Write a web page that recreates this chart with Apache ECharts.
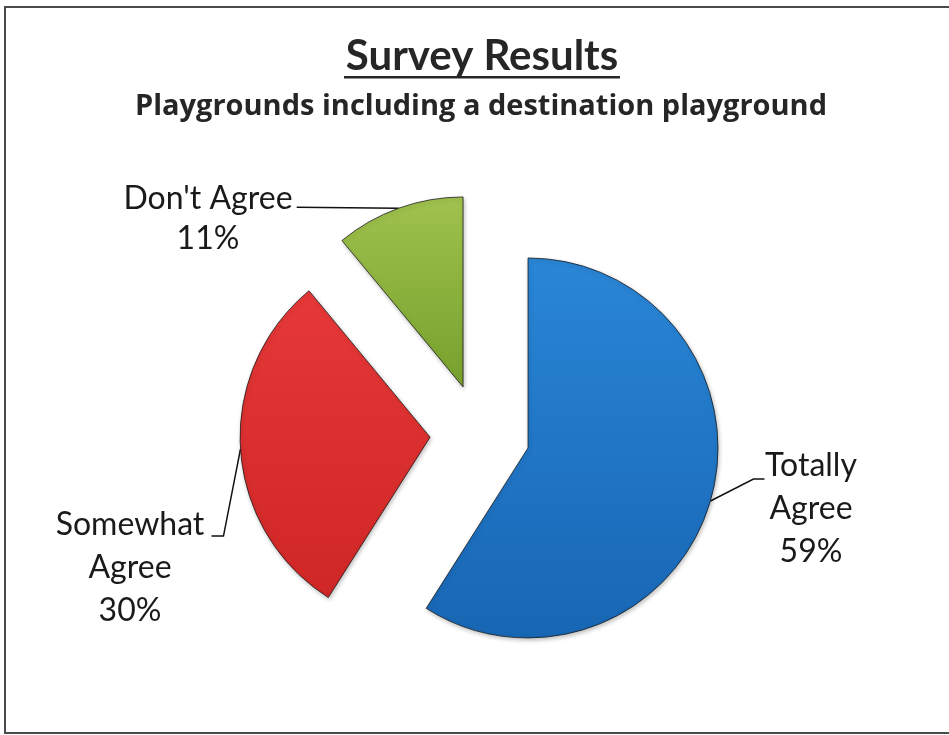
<!DOCTYPE html>
<html>
<head>
<meta charset="utf-8">
<script src="https://cdn.jsdelivr.net/npm/echarts@6/dist/echarts.min.js"></script>
<style>
  html, body { margin: 0; padding: 0; background: #fff; }
  #chart { width: 949px; height: 735px; }
</style>
</head>
<body>
<div id="chart"></div>
<script>
// 数据
var categories = ['Totally\nAgree', 'Somewhat\nAgree', "Don't Agree"];
var percents = [59, 30, 11];

// 颜色 (上 -> 下)
var sliceColors = [
    ['#2a86d6', '#1766b4'],
    ['#e63838', '#cf2626'],
    ['#a0c24e', '#76a02c']
];

// 标签位置 / 引导线拐点(相对切片边缘点)
var labelLayoutCfg = [
    { x: 811, y: 444, lh: 43, bend: [[43, -22], [54, -22]] },
    { x: 130, y: 503, lh: 43, bend: [[-17, 87], [-29, 87]] },
    { x: 208, y: 179, lh: 40, bend: [[-102, -1], [-102, -1]] }
];

var pieCenter = [480, 434];
var pieRadius = 190;
var explode = 50;   // 分离距离

var font = 'Lato, "Open Sans", sans-serif';

var myChart = echarts.init(document.getElementById('chart'));

var total = 0;
for (var k = 0; k < percents.length; k++) total += percents[k];

// 每个切片一个系列, 沿中线方向偏移
var series = [];
var cum = 0;
for (var i = 0; i < percents.length; i++) {
    var mid = (cum + percents[i] / 2) / total * Math.PI * 2;
    cum += percents[i];
    var data = [];
    for (var j = 0; j < percents.length; j++) {
        var on = (j === i);
        data.push({
            name: categories[j],
            value: percents[j],
            itemStyle: on ? {
                color: {
                    type: 'linear', x: 0, y: 0, x2: 0, y2: 1,
                    colorStops: [
                        { offset: 0, color: sliceColors[j][0] },
                        { offset: 1, color: sliceColors[j][1] }
                    ]
                }
            } : { color: 'rgba(0,0,0,0)', borderWidth: 0, shadowBlur: 0, shadowOffsetX: 0, shadowOffsetY: 0 },
            label: { show: on, lineHeight: labelLayoutCfg[j].lh },
            labelLine: { show: on }
        });
    }
    series.push({
        type: 'pie',
        center: [pieCenter[0] + explode * Math.sin(mid), pieCenter[1] - explode * Math.cos(mid)],
        radius: pieRadius,
        startAngle: 90,
        clockwise: true,
        avoidLabelOverlap: false,
        animation: false,
        silent: true,
        emphasis: { disabled: true },
        itemStyle: {
            borderColor: 'rgba(20,20,20,0.75)',
            borderWidth: 1,
            shadowBlur: 4,
            shadowColor: 'rgba(0,0,0,0.25)',
            shadowOffsetX: 1,
            shadowOffsetY: 2
        },
        label: {
            position: 'outside',
            formatter: function (p) { return p.name + '\n' + p.value + '%'; },
            fontFamily: font,
            fontSize: 32,
            color: '#1a1a1a',
            align: 'center'
        },
        labelLine: {
            lineStyle: { color: '#111', width: 1.5 }
        },
        labelLayout: function (params) {
            var pts = params.labelLinePoints;
            if (!pts || !pts[0]) return {};
            var cfg = labelLayoutCfg[params.dataIndex];
            var p0 = pts[0];
            return {
                x: cfg.x,
                y: cfg.y,
                align: 'center',
                verticalAlign: 'top',
                labelLinePoints: [
                    p0,
                    [p0[0] + cfg.bend[0][0], p0[1] + cfg.bend[0][1]],
                    [p0[0] + cfg.bend[1][0], p0[1] + cfg.bend[1][1]]
                ]
            };
        },
        data: data
    });
}

myChart.setOption({
    animation: false,
    graphic: [
        {   // 外框
            type: 'rect',
            shape: { x: 5, y: 7, width: 960, height: 726 },
            style: { fill: 'none', stroke: '#4a4a4a', lineWidth: 2 }
        },
        {
            type: 'text',
            x: 482, y: 35,
            style: {
                text: 'Survey Results',
                textAlign: 'center',
                textVerticalAlign: 'top',
                font: 'bold 42px ' + font,
                fill: '#262626'
            }
        },
        {   // 下划线
            type: 'rect',
            shape: { x: 344, y: 76, width: 276, height: 2.5 },
            style: { fill: '#262626' }
        },
        {
            type: 'text',
            x: 481, y: 92,
            style: {
                text: 'Playgrounds including a destination playground',
                textAlign: 'center',
                textVerticalAlign: 'top',
                font: 'bold 29px "Open Sans", Lato, sans-serif',
                fill: '#262626'
            }
        }
    ],
    series: series
});
</script>
</body>
</html>
